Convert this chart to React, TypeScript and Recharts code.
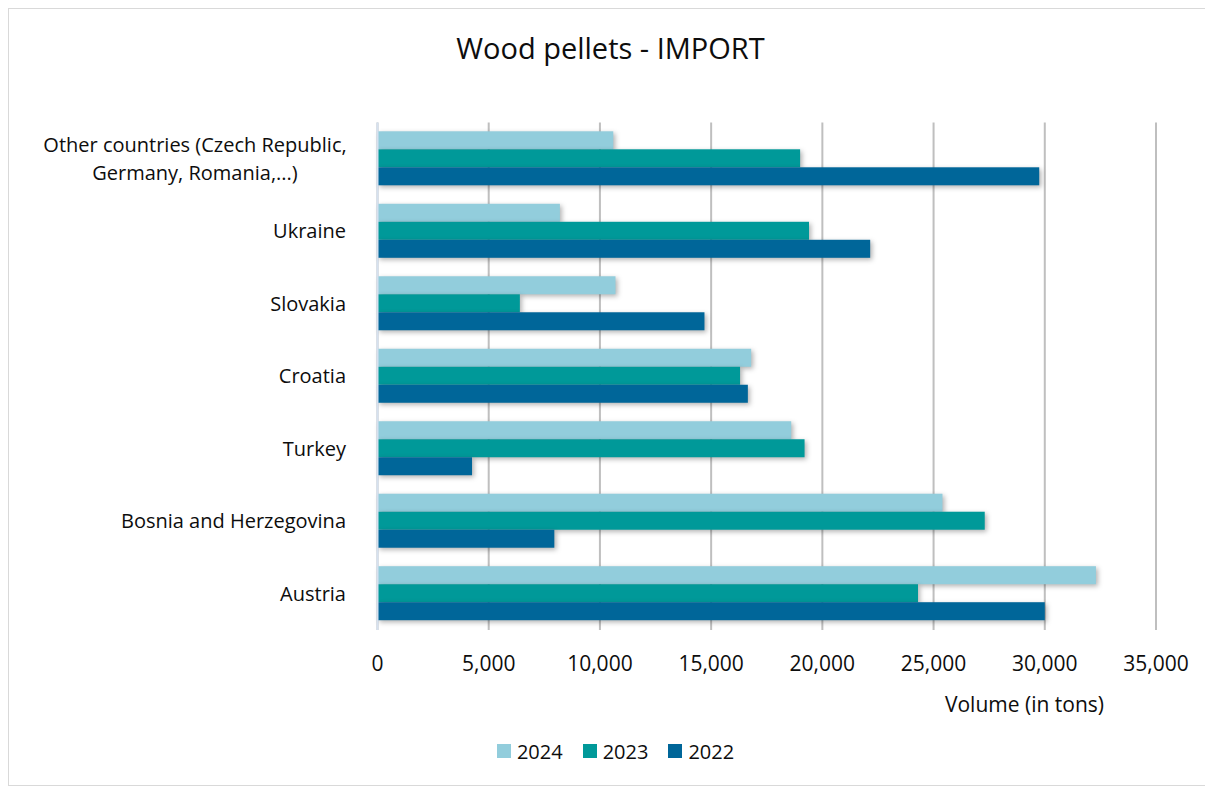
import React from "react";
import { BarChart, Bar, XAxis, YAxis, CartesianGrid, Legend } from "recharts";

const countries = [
  "Other countries (Czech Republic, Germany, Romania,...)",
  "Ukraine",
  "Slovakia",
  "Croatia",
  "Turkey",
  "Bosnia and Herzegovina",
  "Austria",
];
const tons2024 = [10600, 8200, 10700, 16800, 18600, 25400, 32300];
const tons2023 = [19000, 19400, 6400, 16300, 19200, 27300, 24300];
const tons2022 = [29750, 22150, 14700, 16650, 4250, 7950, 30000];
const xTicks = [0, 5000, 10000, 15000, 20000, 25000, 30000, 35000];

const series = [
  { key: "y2024", name: "2024", color: "#92CDDC" },
  { key: "y2023", name: "2023", color: "#009999" },
  { key: "y2022", name: "2022", color: "#006699" },
];

const rows = countries.map((c, i) => ({
  country: c,
  y2024: tons2024[i],
  y2023: tons2023[i],
  y2022: tons2022[i],
}));

const FONT = "'Open Sans', sans-serif";
const TEXT = "#0d0d0d";

// wrap long category names roughly like the spreadsheet does
function wrap(label: string, max = 32): string[] {
  const out: string[] = [];
  let cur = "";
  for (const w of label.split(" ")) {
    const next = cur ? cur + " " + w : w;
    if (next.length > max && cur) {
      out.push(cur);
      cur = w;
    } else cur = next;
  }
  if (cur) out.push(cur);
  return out;
}

function CountryTick(props: any) {
  const { x, y, payload } = props;
  const lines = wrap(String(payload.value));
  if (lines.length === 1) {
    return (
      <text x={x} y={y} dy="0.35em" textAnchor="end" fontSize={20} fontFamily={FONT} fill={TEXT}>
        {lines[0]}
      </text>
    );
  }
  // wrapped labels are centred on each other, block sits against the axis
  const lh = 28;
  const cx = x - 151;
  const start = y - ((lines.length - 1) * lh) / 2;
  return (
    <text x={cx} textAnchor="middle" fontSize={20} fontFamily={FONT} fill={TEXT}>
      {lines.map((l, i) => (
        <tspan key={i} x={cx} y={start + i * lh} dy="0.35em">
          {l}
        </tspan>
      ))}
    </text>
  );
}

function ShadowBar(props: any) {
  const { x, y, width, height, fill } = props;
  if (!width || width <= 0) return null;
  return (
    <rect
      x={x}
      y={y}
      width={width}
      height={height}
      fill={fill}
      style={{ filter: "drop-shadow(2px 2px 2.5px rgba(0,0,0,0.3))" }}
    />
  );
}

function LegendBox() {
  return (
    <div
      style={{
        display: "flex",
        justifyContent: "center",
        alignItems: "center",
        fontFamily: FONT,
        fontSize: 20,
        color: TEXT,
        height: 26,
        paddingLeft: 10,
      }}
    >
      {series.map((s) => (
        <div key={s.key} style={{ display: "flex", alignItems: "center", margin: "0 10px" }}>
          <span style={{ width: 14, height: 14, background: s.color, marginRight: 6 }} />
          <span>{s.name}</span>
        </div>
      ))}
    </div>
  );
}

export default function App() {
  return (
    <div
      style={{
        position: "relative",
        width: 1205,
        height: 778,
        border: "1px solid #d9d9d9",
        boxSizing: "border-box",
        background: "#fff",
        fontFamily: FONT,
      }}
    >
      <div
        style={{
          position: "absolute",
          top: 19,
          left: 0,
          width: "100%",
          textAlign: "center",
          fontSize: 29,
          color: TEXT,
        }}
      >
        Wood pellets - IMPORT
      </div>
      <BarChart
        width={1203}
        height={776}
        layout="vertical"
        data={rows}
        margin={{ top: 113.6, right: 56, bottom: 89, left: 10 }}
        barCategoryGap="12%"
        barGap={0}
      >
        <CartesianGrid horizontal={false} stroke="#bfbfbf" strokeWidth={2} />
        <XAxis
          type="number"
          domain={[0, 35000]}
          ticks={xTicks}
          interval={0}
          height={40}
          axisLine={false}
          tickLine={false}
          tickSize={0}
          tickMargin={26}
          tick={{ fontSize: 21, fontFamily: FONT, fill: TEXT }}
          tickFormatter={(v: number) => v.toLocaleString("en-US")}
        />
        <YAxis
          type="category"
          dataKey="country"
          width={358.5}
          axisLine={{ stroke: "#d6e1ef", strokeWidth: 2 }}
          tickLine={false}
          tickSize={0}
          tickMargin={31.5}
          interval={0}
          tick={<CountryTick />}
        />
        {series.map((s) => (
          <Bar
            key={s.key}
            dataKey={s.key}
            name={s.name}
            fill={s.color}
            shape={<ShadowBar />}
            isAnimationActive={false}
          />
        ))}
        <Legend
          verticalAlign="bottom"
          content={<LegendBox />}
          wrapperStyle={{ top: 729, left: 0, width: 1203 }}
        />
      </BarChart>
      <div
        style={{
          position: "absolute",
          top: 681,
          right: 108,
          fontSize: 21,
          color: TEXT,
        }}
      >
        Volume (in tons)
      </div>
    </div>
  );
}
